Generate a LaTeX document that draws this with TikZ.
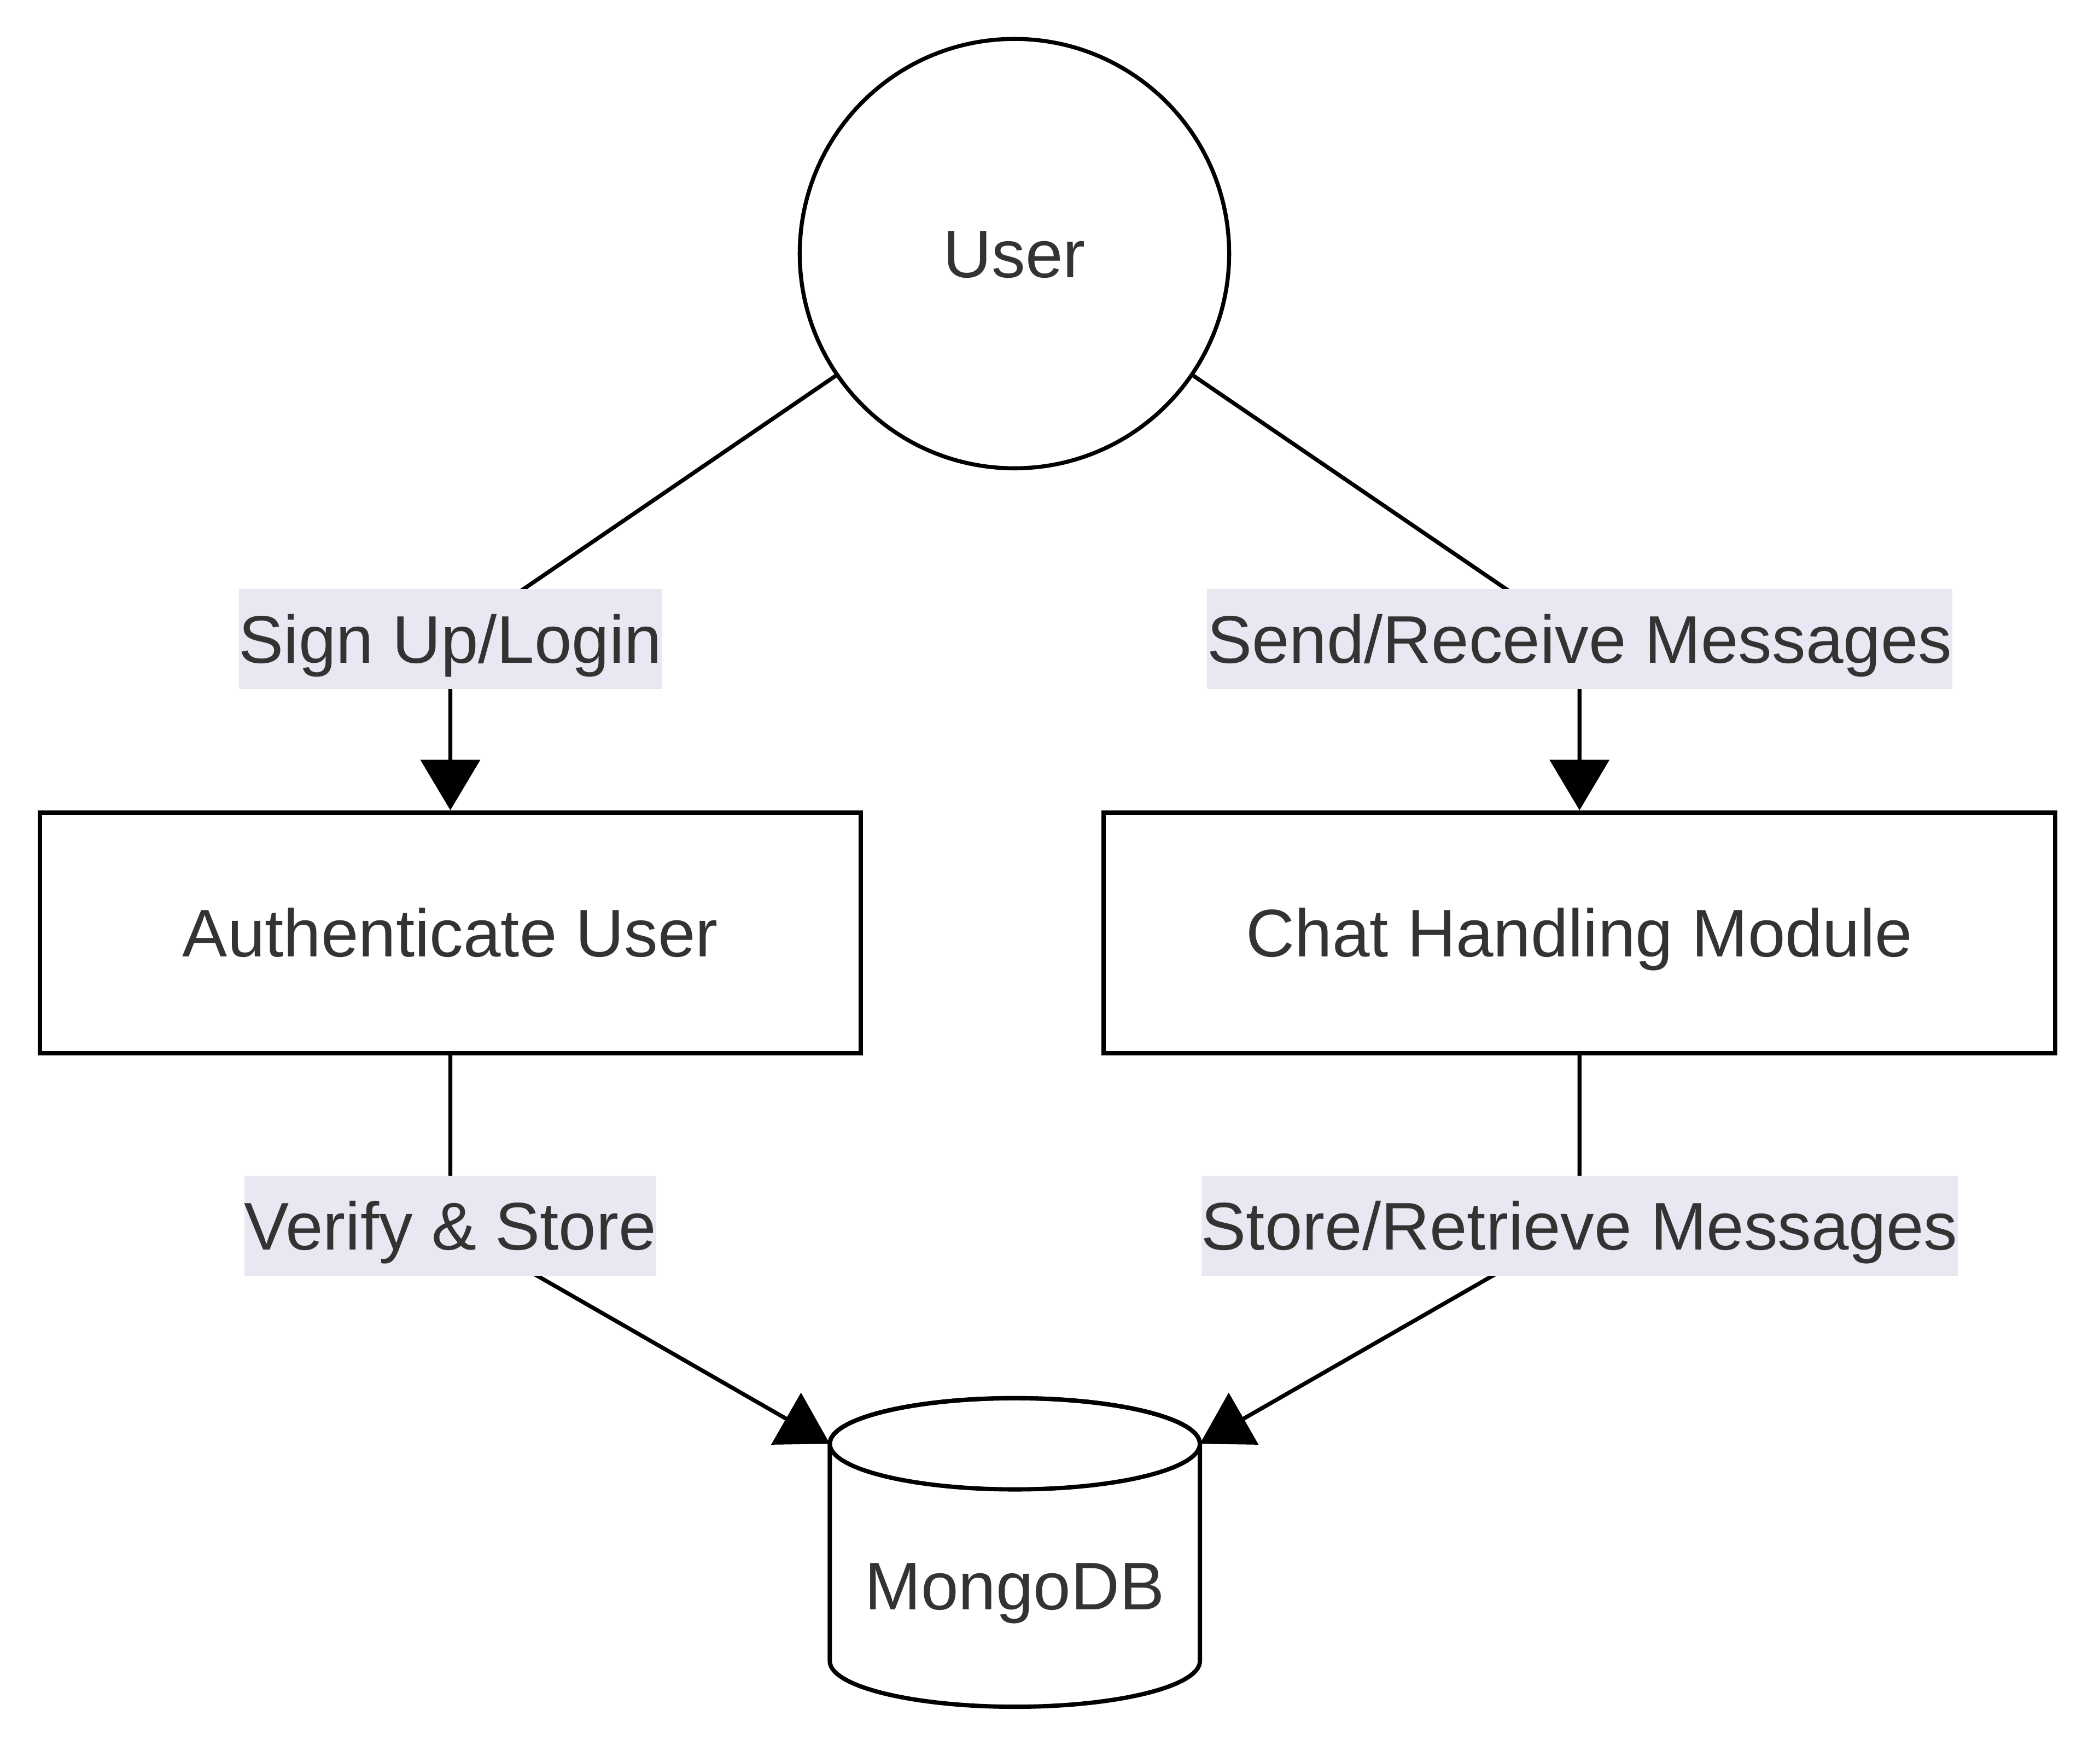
\documentclass[tikz,border=0pt]{standalone}
\usepackage{fontspec}
\setmainfont{Liberation Sans}
\usetikzlibrary{arrows.meta}
\definecolor{txtgray}{HTML}{333333}
\definecolor{lblbg}{RGB}{232,232,242}
\begin{document}
\begin{tikzpicture}[x=1pt,y=-1pt,
  base/.style={font=\fontsize{50.2pt}{60pt}\selectfont, text=txtgray, text height=36pt, text depth=0pt, inner sep=0pt},
  procbox/.style={base, draw=black, line width=3.2pt, fill=white, minimum height=179.5pt},
  lbl/.style={base, fill=lblbg, minimum height=74.6pt},
  edge/.style={draw=black, line width=3pt, -{Triangle[length=37.6pt,width=44pt]}}
]
\useasboundingbox (0,0) rectangle (1565,1304.6);
\fill[white] (0,0) rectangle (1565,1304.6);

\node[base, circle, draw=black, line width=3pt, minimum size=320pt] (user) at (756,189) {User};
\node[procbox, minimum width=611.5pt] (auth) at (335.6,695.2) {Authenticate User};
\node[procbox, minimum width=709pt] (chat) at (1177.1,695.2) {Chat Handling Module};

% database cylinder
\coordinate (dbL) at (618.4,1076);
\coordinate (dbR) at (894.2,1076);
\draw[line width=3.2pt, fill=white] (dbL) -- (618.4,1238)
  arc[start angle=180, end angle=0, x radius=137.9, y radius=34] -- (dbR)
  arc[start angle=0, end angle=-180, x radius=137.9, y radius=34] -- cycle;
\draw[line width=3.2pt] (756.3,1076) ellipse[x radius=137.9, y radius=34];
\node[base] (db) at (756.3,1181.8) {MongoDB};

% label positions
\coordinate (c1) at (335.6,476.3);
\coordinate (c2) at (1177.1,476.3);
\coordinate (c3) at (335.6,913.6);
\coordinate (c4) at (1177.1,913.6);

% connectors
\draw[edge] (user) -- (c1) -- (auth.north);
\draw[edge] (user) -- (c2) -- (chat.north);
\draw[edge] (auth.south) -- (c3) -- (dbL);
\draw[edge] (chat.south) -- (c4) -- (dbR);

% labels
\node[lbl] (l1) at (c1) {Sign Up/Login};
\node[lbl] (l2) at (c2) {Send/Receive Messages};
\node[lbl] (l3) at (c3) {Verify \& Store};
\node[lbl] (l4) at (c4) {Store/Retrieve Messages};
\end{tikzpicture}
\end{document}
